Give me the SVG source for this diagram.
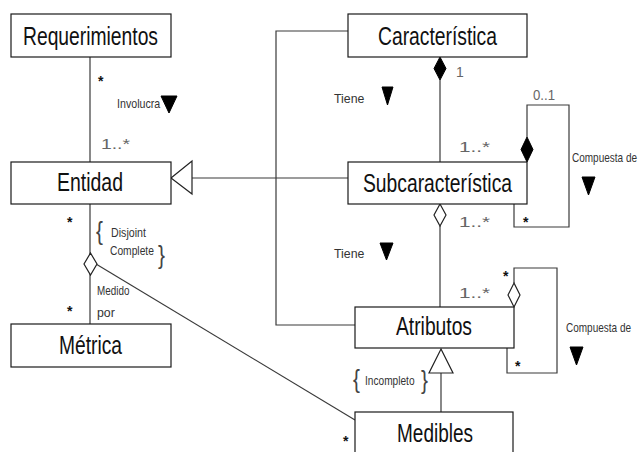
<svg xmlns="http://www.w3.org/2000/svg" width="640" height="452" viewBox="0 0 640 452">
  <style>
    .box { fill: #ffffff; stroke: #1a1a1a; stroke-width: 1.2; }
    .name { font-family: "Liberation Sans", Arial, sans-serif; font-size: 25px; fill: #111; text-anchor: middle; }
    .line { fill: none; stroke: #3a3a3a; stroke-width: 1.2; }
    .hollow { fill: #ffffff; stroke: #222; stroke-width: 1.2; }
    .solid { fill: #000; stroke: #000; stroke-width: 1; }
    .lbl { font-family: "Liberation Sans", Arial, sans-serif; font-size: 13px; fill: #333; }
    .mult { font-family: "Liberation Sans", Arial, sans-serif; font-size: 14px; fill: #666; }
    .star { font-family: "Liberation Sans", Arial, sans-serif; font-size: 14px; font-weight: bold; fill: #111; }
    .brace { font-family: "Liberation Sans", Arial, sans-serif; font-size: 26px; fill: #444; }
  </style>

  <rect x="0" y="0" width="640" height="452" fill="#ffffff"/>

  <!-- connectors -->
  <g id="connectors">
    <!-- Requerimientos - Entidad - Métrica -->
    <line class="line" x1="90" y1="57" x2="90" y2="162"/>
    <line class="line" x1="90" y1="204" x2="90" y2="324"/>
    <!-- Entidad to Medibles -->
    <line class="line" x1="96" y1="264" x2="355" y2="420"/>
    <!-- generalization Subcaracterística -> Entidad -->
    <line class="line" x1="192" y1="178" x2="348" y2="178"/>
    <polygon class="hollow" points="171,178 192,161 192,194"/>
    <!-- Característica - Atributos -->
    <polyline class="line" points="348,31 276,31 276,325 355,325"/>
    <!-- Característica - Subcaracterística (composition) -->
    <line class="line" x1="440" y1="80" x2="440" y2="162"/>
    <polygon class="solid" points="440,57 446,68.5 440,80 434,68.5"/>
    <!-- Subcaracterística - Atributos (aggregation) -->
    <line class="line" x1="440" y1="226" x2="440" y2="307"/>
    <polygon class="hollow" points="440,204 446,215 440,226 434,215"/>
    <!-- Subcaracterística self composition -->
    <polyline class="line" points="527,137 527,105 569,105 569,227 514,227 514,204"/>
    <polygon class="solid" points="527,137 533,149.5 527,162 521,149.5"/>
    <!-- Atributos self aggregation -->
    <polyline class="line" points="514,283 514,268 557,268 557,373 507,373 507,348"/>
    <polygon class="hollow" points="514,283 520,295 514,307 508,295"/>
    <!-- generalization Medibles -> Atributos -->
    <line class="line" x1="441" y1="373" x2="441" y2="412"/>
    <polygon class="hollow" points="441,349 453,373 429,373"/>
    <!-- aggregation diamond on Entidad -->
    <polygon class="hollow" points="90.5,253 97,264 90.5,275 84,264"/>
  </g>

  <!-- nodes -->
  <g id="requerimientos">
    <rect class="box" x="11" y="14" width="160" height="43"/>
    <text class="name" x="90.5" y="45" textLength="135" lengthAdjust="spacingAndGlyphs">Requerimientos</text>
  </g>
  <g id="entidad">
    <rect class="box" x="11" y="162" width="160" height="42"/>
    <text class="name" x="90" y="191" textLength="66" lengthAdjust="spacingAndGlyphs">Entidad</text>
  </g>
  <g id="metrica">
    <rect class="box" x="11" y="324" width="160" height="43"/>
    <text class="name" x="90.5" y="354" textLength="63" lengthAdjust="spacingAndGlyphs">Métrica</text>
  </g>
  <g id="caracteristica">
    <rect class="box" x="348" y="14" width="179" height="43"/>
    <text class="name" x="437.5" y="45" textLength="119" lengthAdjust="spacingAndGlyphs">Característica</text>
  </g>
  <g id="subcaracteristica">
    <rect class="box" x="348" y="162" width="179" height="42"/>
    <text class="name" x="437.5" y="192" textLength="149" lengthAdjust="spacingAndGlyphs">Subcaracterística</text>
  </g>
  <g id="atributos">
    <rect class="box" x="355" y="307" width="159" height="41"/>
    <text class="name" x="434" y="335" textLength="76" lengthAdjust="spacingAndGlyphs">Atributos</text>
  </g>
  <g id="medibles">
    <rect class="box" x="355" y="412" width="158" height="43"/>
    <text class="name" x="435" y="442" textLength="76" lengthAdjust="spacingAndGlyphs">Medibles</text>
  </g>

  <!-- association labels and multiplicities (narrow labels use a horizontal squeeze) -->
  <g id="labels">
    <!-- Involucra -->
    <text class="star" x="98" y="86">*</text>
    <text class="lbl" transform="translate(117,108) scale(0.82,1)">Involucra</text>
    <polygon class="solid" points="161,96 177,96 169,113"/>
    <text class="mult" x="101" y="149" textLength="29" lengthAdjust="spacingAndGlyphs">1..*</text>

    <!-- Entidad constraint -->
    <text class="star" x="67" y="227">*</text>
    <text class="brace" transform="translate(96,240) scale(0.8,1)">{</text>
    <text class="lbl" transform="translate(111,237) scale(0.82,1)">Disjoint</text>
    <text class="lbl" transform="translate(110,255) scale(0.79,1)">Complete</text>
    <text class="brace" transform="translate(158,264) scale(0.8,1)">}</text>

    <!-- Medido por -->
    <text class="lbl" transform="translate(97,295) scale(0.76,1)">Medido</text>
    <text class="lbl" transform="translate(97,317) scale(0.95,1)">por</text>
    <text class="star" x="67" y="316">*</text>
    <text class="star" x="343" y="446">*</text>

    <!-- Característica / Subcaracterística -->
    <text class="mult" x="456" y="77">1</text>
    <text class="lbl" transform="translate(334,103) scale(0.95,1)">Tiene</text>
    <polygon class="solid" points="382,87 393,87 387.5,105"/>
    <text class="mult" x="459" y="152" textLength="31" lengthAdjust="spacingAndGlyphs">1..*</text>

    <!-- Subcaracterística / Atributos -->
    <text class="mult" x="459" y="227" textLength="31" lengthAdjust="spacingAndGlyphs">1..*</text>
    <text class="lbl" transform="translate(334,258) scale(0.95,1)">Tiene</text>
    <polygon class="solid" points="380,243 393,243 386.5,260"/>
    <text class="mult" x="459" y="298" textLength="31" lengthAdjust="spacingAndGlyphs">1..*</text>

    <!-- Subcaracterística self -->
    <text class="mult" x="533" y="100" textLength="22" lengthAdjust="spacingAndGlyphs">0..1</text>
    <text class="star" x="523" y="227">*</text>
    <text class="lbl" transform="translate(572,162) scale(0.77,1)">Compuesta de</text>
    <polygon class="solid" points="582,177 595,177 588.5,195"/>

    <!-- Atributos self -->
    <text class="star" x="503" y="281">*</text>
    <text class="star" x="515" y="371">*</text>
    <text class="lbl" transform="translate(566,332) scale(0.77,1)">Compuesta de</text>
    <polygon class="solid" points="570,347 583,347 576.5,365"/>

    <!-- Medibles constraint -->
    <text class="brace" transform="translate(353,388) scale(0.8,1)">{</text>
    <text class="lbl" transform="translate(365,385) scale(0.78,1)">Incompleto</text>
    <text class="brace" transform="translate(421,389) scale(0.8,1)">}</text>
  </g>
</svg>
